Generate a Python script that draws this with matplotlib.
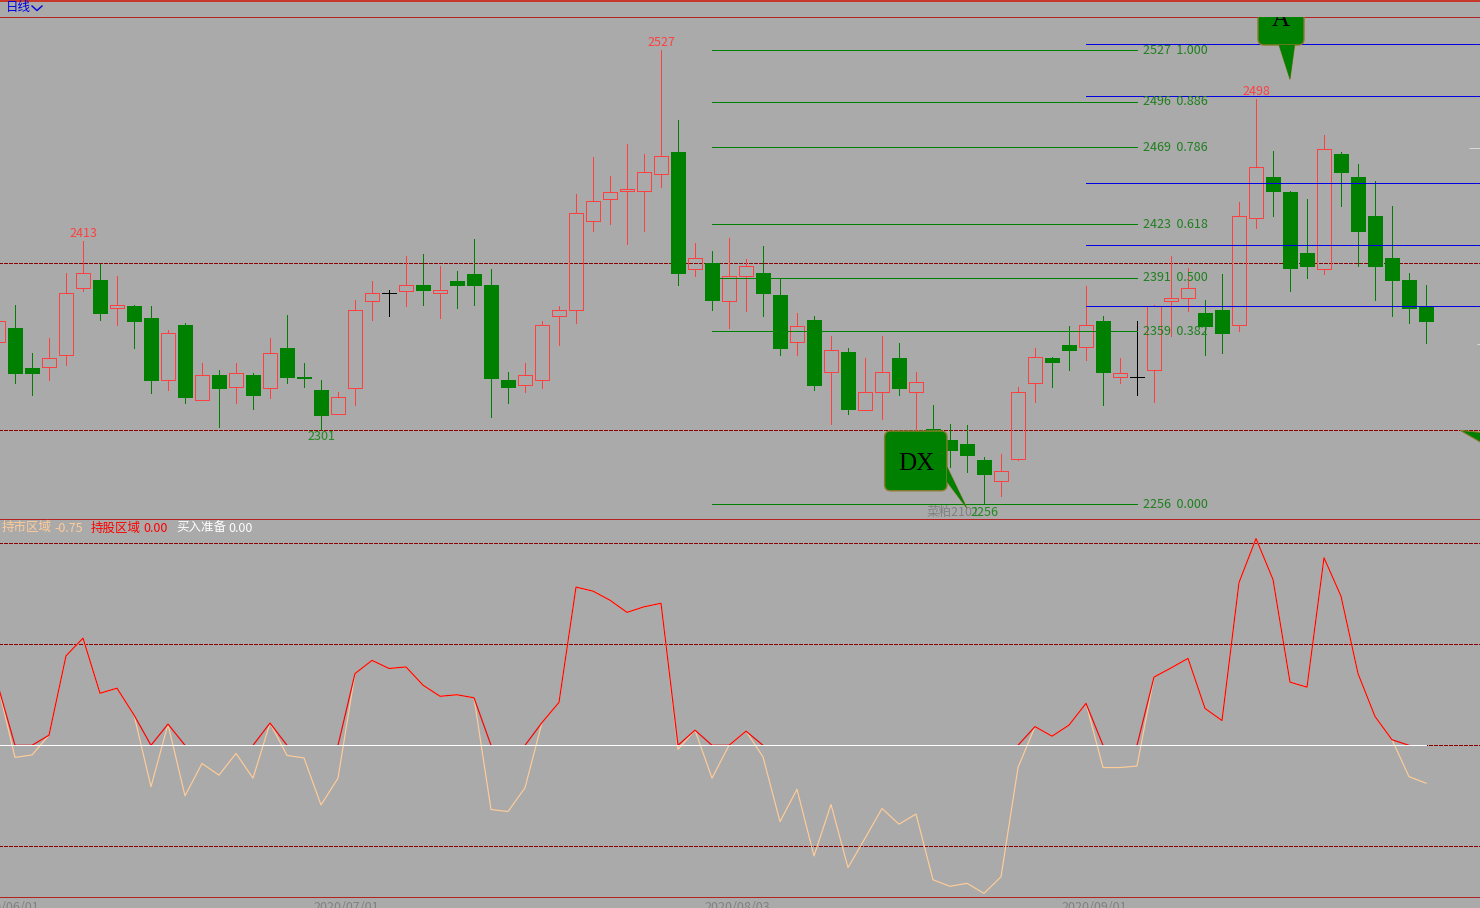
import numpy as np
import matplotlib
matplotlib.use('Agg')
import matplotlib.pyplot as plt
from matplotlib.lines import Line2D
from matplotlib.patches import FancyBboxPatch, Polygon
from matplotlib.transforms import Affine2D

plt.rcParams['font.family'] = ['Noto Sans CJK SC', 'DejaVu Sans']

# daily candles
open_p = [2353, 2361, 2337, 2338, 2345, 2385, 2390, 2373, 2374, 2367,
          2330, 2363, 2318, 2333, 2326, 2333, 2325, 2349, 2332, 2324,
          2310, 2325, 2377, 2382, 2383, 2387, 2382, 2389, 2393, 2387,
          2330, 2327, 2330, 2368, 2372, 2425, 2438, 2443, 2443, 2453,
          2466, 2396, 2400, 2377, 2392, 2394, 2381, 2353, 2366, 2335,
          2347, 2312, 2323, 2343, 2323, 2301, 2294, 2292, 2282, 2270,
          2283, 2328, 2343, 2351, 2350, 2365, 2332, 2332, 2336, 2377,
          2379, 2370, 2372, 2363, 2427, 2451, 2442, 2406, 2396, 2465,
          2451, 2428, 2403, 2390, 2374]
close_p = [2365, 2334, 2334, 2343, 2382, 2394, 2370, 2375, 2365, 2330,
           2358, 2320, 2333, 2325, 2334, 2321, 2346, 2332, 2331, 2309,
           2320, 2372, 2382, 2382, 2387, 2384, 2384, 2387, 2387, 2331,
           2326, 2333, 2363, 2372, 2430, 2437, 2442, 2444, 2454, 2464,
           2394, 2403, 2378, 2392, 2398, 2382, 2349, 2362, 2327, 2348,
           2313, 2323, 2335, 2325, 2329, 2291, 2288, 2285, 2274, 2276,
           2323, 2344, 2341, 2348, 2363, 2335, 2334, 2332, 2374, 2379,
           2385, 2362, 2358, 2428, 2457, 2443, 2397, 2398, 2468, 2454,
           2419, 2398, 2390, 2373, 2365]
high_p = [2368, 2375, 2346, 2355, 2394, 2413, 2399, 2392, 2375, 2374,
          2360, 2364, 2340, 2336, 2340, 2334, 2355, 2369, 2340, 2330,
          2323, 2378, 2389, 2384, 2404, 2405, 2398, 2395, 2414, 2396,
          2335, 2340, 2365, 2374, 2441, 2463, 2452, 2471, 2465, 2527,
          2485, 2412, 2407, 2415, 2402, 2410, 2391, 2370, 2368, 2356,
          2349, 2343, 2356, 2352, 2335, 2315, 2304, 2303, 2284, 2286,
          2326, 2349, 2344, 2362, 2386, 2368, 2343, 2365, 2375, 2404,
          2397, 2378, 2393, 2436, 2498, 2467, 2443, 2438, 2476, 2466,
          2459, 2449, 2434, 2394, 2387]
low_p = [2350, 2328, 2321, 2330, 2339, 2383, 2366, 2363, 2349, 2322,
         2324, 2316, 2318, 2302, 2316, 2313, 2319, 2328, 2326, 2301,
         2310, 2315, 2366, 2368, 2374, 2375, 2367, 2373, 2375, 2308,
         2316, 2323, 2325, 2351, 2364, 2419, 2423, 2411, 2419, 2445,
         2387, 2392, 2372, 2361, 2371, 2368, 2345, 2345, 2324, 2304,
         2310, 2312, 2307, 2321, 2297, 2282, 2278, 2275, 2256, 2261,
         2282, 2317, 2326, 2336, 2342, 2315, 2328, 2321, 2317, 2356,
         2371, 2345, 2346, 2359, 2421, 2428, 2383, 2391, 2393, 2434,
         2398, 2378, 2368, 2364, 2352]

# indicator, last value is the -0.75 in the header
signal = [1.18, -0.24, -0.19, 0.20, 1.77, 2.12, 1.03, 1.13, 0.60, -0.82,
          0.42, -1.00, -0.36, -0.59, -0.16, -0.65, 0.44, -0.20, -0.25, -1.18,
          -0.65, 1.42, 1.68, 1.52, 1.55, 1.19, 0.97, 1.00, 0.94, -1.27,
          -1.31, -0.84, 0.45, 0.85, 3.13, 3.05, 2.87, 2.63, 2.74, 2.81,
          -0.08, 0.30, -0.65, 0.00, 0.28, -0.23, -1.51, -0.87, -2.19, -1.17,
          -2.42, -1.84, -1.25, -1.56, -1.36, -2.66, -2.79, -2.73, -2.93, -2.60,
          -0.44, 0.37, 0.18, 0.40, 0.83, -0.44, -0.44, -0.41, 1.35, 1.53,
          1.72, 0.73, 0.49, 3.22, 4.09, 3.28, 1.25, 1.15, 3.71, 2.95,
          1.42, 0.57, 0.11, -0.62, -0.75]

fib_prices = [2527, 2496, 2469, 2423, 2391, 2359, 2256]
fib_ratios = ['1.000', '0.886', '0.786', '0.618', '0.500', '0.382', '0.000']
blue_levels = [2530.4, 2499.4, 2447.4, 2410.4, 2374]
guide_prices = [2400, 2300]
guide_values = [-2, 0, 2, 4]
date_ticks = [0.47, 20.47, 43.47, 64.47]
date_labels = ['2020/06/01', '2020/07/01', '2020/08/03', '2020/09/01']
extreme_idx = [5, 39, 74, 19, 58]
extreme_txt = ['2413', '2527', '2498', '2301', '2256']

BG = '#AAAAAA'
RED = '#FF4040'
GREEN = '#008000'
FRAME = '#B22222'
DASH = '#8B0000'
FIB = '#1E7F1E'
BUFF = '#FFCC99'
EDGE = '#8B7B2B'
PX = 0.72  # one pixel line at dpi 100
dash = (0, (4, 2))

W, H = 1480, 908
fig = plt.figure(figsize=(W / 100, H / 100), dpi=100, facecolor=BG)
ax1 = fig.add_axes([0, 1 - 519 / H, 1, 502 / H], facecolor=BG)
ax2 = fig.add_axes([0, 1 - 897 / H, 1, 378 / H], facecolor=BG)

x = np.arange(len(open_p))
o, c, h, l = map(np.array, (open_p, close_p, high_p, low_p))
top, bot = np.maximum(o, c), np.minimum(o, c)
colors = np.where(c > o, RED, np.where(c < o, GREEN, 'black'))

for ax in (ax1, ax2):
    ax.set_xlim(2 / 17, 1482 / 17)
    ax.set_yticks([])
    for s in ('left', 'right'):
        ax.spines[s].set_visible(False)
    for s in ('top', 'bottom'):
        ax.spines[s].set_color(FRAME)
        ax.spines[s].set_linewidth(PX)
ax1.set_xticks([])
ax1.set_ylim(2247.05, 2546.7)
ax2.set_ylim(-3.001, 4.477)

# price pane
ax1.hlines(guide_prices, 0, 90, color=DASH, lw=PX, linestyle=dash, antialiased=False, zorder=1)
ax1.vlines(x, top, h, color=colors, lw=PX, antialiased=False, zorder=2)
ax1.vlines(x, l, bot, color=colors, lw=PX, antialiased=False, zorder=2)
up = c >= o
ax1.bar(x[up], (top - bot)[up], bottom=bot[up], width=0.8, facecolor='none',
        edgecolor=colors[up], lw=PX, antialiased=False, zorder=2)
ax1.bar(x[~up], (top - bot)[~up], bottom=bot[~up], width=0.86, facecolor=GREEN,
        edgecolor=GREEN, lw=PX, antialiased=False, zorder=2)

ax1.hlines(fib_prices, 42, 67, color=GREEN, lw=PX, antialiased=False, zorder=3)
ax1.hlines(blue_levels, 64, 90, color='#0000E0', lw=PX, antialiased=False, zorder=3)
ax1.hlines([2468.3], 86.5, 90, color='#D8D8D8', lw=PX, zorder=3)
ax1.hlines([2351.3], 87, 90, color='#D8D8D8', lw=PX, zorder=3)
for p, r in zip(fib_prices, fib_ratios):
    ax1.text(67.35, p, f'{p}  {r}', color=FIB, fontsize=9, va='center', ha='left', zorder=6)

for i, t in zip(extreme_idx, extreme_txt):
    is_high = h[i] == int(t)
    ax1.annotate(t, (i, int(t)), xytext=(0, 7.5 if is_high else -8), textcoords='offset pixels',
                 color=RED if is_high else '#1E8B1E', fontsize=9, ha='center', va='center', zorder=6)
ax1.annotate('菜粕2101', (58, 2256), xytext=(-57, -8), textcoords='offset pixels',
             color='#808080', fontsize=9, ha='left', va='center', zorder=5)


def callout(idx, price, box, tail, label=None, text_at=None):
    # box and tail are pixel offsets from the tip of the pointer
    tr = Affine2D().translate(*ax1.transData.transform((idx, price)))
    ax1.add_patch(Polygon(tail, closed=True, transform=tr, fc=GREEN, ec=EDGE, lw=PX, zorder=4))
    if box is not None:
        ax1.add_patch(FancyBboxPatch((box[0], box[1]), box[2], box[3], boxstyle='round,pad=0,rounding_size=6',
                                     transform=tr, fc=GREEN, ec=EDGE, lw=1.0, zorder=4))
        ax1.add_patch(Polygon(tail, closed=True, transform=tr, fc=GREEN, ec='none', zorder=4))
    if label:
        ax1.text(text_at[0], text_at[1], label, transform=tr, family='Liberation Serif', fontsize=18,
                 color='black', ha='center', va='baseline', zorder=5, clip_on=True)


callout(57, 2253.4, (-82.4, 17.6, 62.4, 59.7), [(0, 0), (-20, 41.6), (-20, 26.6)], 'DX', (-51, 38))
callout(76, 2509.5, (-32, 34.3, 46, 60), [(0, 0), (-11, 34.3), (4.7, 34.3)], 'A', (-9.3, 53.3))
callout(86, 2300, None, [(0, 0), (38, -4), (38, -22)])

# indicator pane
sig = np.array(signal)
pos = np.maximum(sig, 0.0)
keep = (sig > 0) | np.r_[False, sig[:-1] > 0] | np.r_[sig[1:] > 0, False]
pos[~keep] = np.nan
ax2.hlines(guide_values, 0, 90, color=DASH, lw=PX, linestyle=dash, antialiased=False, zorder=1)
ax2.plot(x, sig, color=BUFF, lw=0.85, zorder=2)
ax2.plot(x, pos, color='#FF0000', lw=0.85, zorder=3)
ax2.plot(x, np.zeros(len(x)), color='white', lw=PX, antialiased=False, zorder=4)

ax2.set_xticks(date_ticks)
ax2.set_xticklabels(date_labels, color='#808080', fontsize=9)
ax2.tick_params(axis='x', length=0, pad=3)

# header strip and legend text
fig.add_artist(Line2D([0, 1], [1 - 0.5 / H] * 2, color='#CC2010', lw=1.2))
fig.text(6 / W, 1 - 8 / H, '日线', color='#0000E0', fontsize=9, va='center', ha='left')
fig.add_artist(Line2D(np.array([32, 37, 42]) / W, 1 - np.array([6, 10.5, 6]) / H, color='#0000E0', lw=1.0))

legend_txt = ['持市区域', '-0.75', '持股区域', '0.00', '买入准备', '0.00']
legend_col = [BUFF, BUFF, '#FF0000', '#FF0000', 'white', 'white']
legend_x = [2, 54, 91, 143, 176, 228]
for t, col, px in zip(legend_txt, legend_col, legend_x):
    fig.text(px / W, 1 - 528 / H, t, color=col, fontsize=9, va='center', ha='left')

fig.savefig('out.png', dpi=100, facecolor=BG)
